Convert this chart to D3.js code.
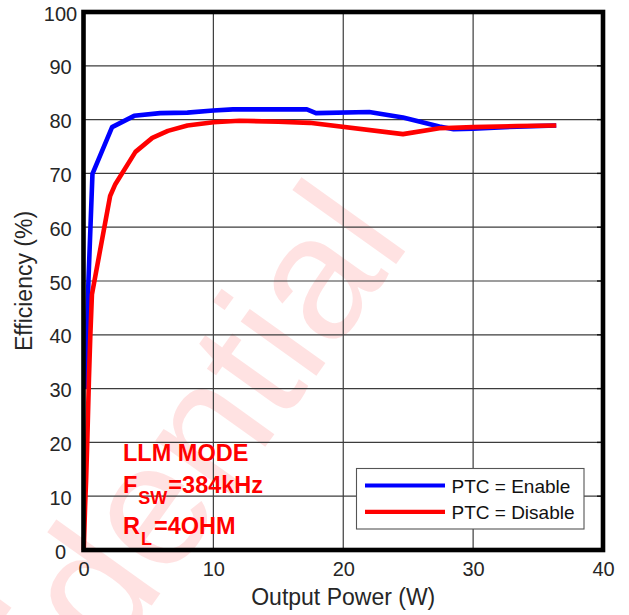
<!DOCTYPE html>
<html>
<head>
<meta charset="utf-8">
<script src="https://cdn.jsdelivr.net/npm/d3@7/dist/d3.min.js"></script>
<style>
  html, body { margin: 0; padding: 0; background: #fff; }
  svg { display: block; }
  text { font-family: "Liberation Sans", Arial, sans-serif; }
</style>
</head>
<body>
<svg id="chart" width="629" height="615"></svg>
<script>
// ---- data ----
const xTicks = [0, 10, 20, 30, 40];
const yTicks = [0, 10, 20, 30, 40, 50, 60, 70, 80, 90, 100];
const seriesNames = ["PTC = Enable", "PTC = Disable"];
const seriesColors = ["#0000ff", "#ff0000"];
const enablePower = [0.1, 0.25, 0.38, 0.69, 2.2, 3.9, 5.9, 8, 10, 11.5, 17.2, 17.9, 22, 24.6, 27.4, 28.5, 30, 33.4, 36.4];
const enableEff   = [30, 39, 50, 69.9, 78.6, 80.7, 81.2, 81.3, 81.7, 81.9, 81.9, 81.2, 81.4, 80.4, 78.7, 78.2, 78.3, 78.7, 78.9];
const disablePower = [0.02, 0.12, 0.2, 0.3, 0.42, 0.52, 0.65, 2.05, 2.45, 4.0, 5.3, 6.5, 8, 10, 12, 15, 17.4, 24.6, 27.4, 30, 33.4, 36.4];
const disableEff   = [0, 8, 13, 21, 32, 39.5, 47.5, 65.8, 68, 74.0, 76.6, 77.9, 78.9, 79.5, 79.8, 79.6, 79.4, 77.3, 78.4, 78.6, 78.8, 78.9];
const annotation = ["LLM MODE", "F", "SW", "=384kHz", "R", "L", "=4OHM"];
const watermark = "Confidential";

// ---- layout ----
const svg = d3.select("#chart");
const x = d3.scaleLinear().domain([0, 40]).range([83.5, 603]);
const y = d3.scaleLinear().domain([0, 100]).range([550, 12]);
const textColor = "#262626";

// watermark (behind everything)
svg.append("text")
  .attr("transform", "translate(412,242) rotate(-54.4)")
  .attr("text-anchor", "end")
  .attr("font-size", 176)
  .attr("fill", "#ffe2e2")
  .text(watermark);

// grid
const grid = svg.append("g").attr("stroke", "#3c3c3c").attr("stroke-width", 1.2);
grid.selectAll(".gx").data(xTicks.slice(1, -1)).join("line")
  .attr("x1", d => x(d)).attr("x2", d => x(d))
  .attr("y1", y(0)).attr("y2", y(100));
grid.selectAll(".gy").data(yTicks.slice(1, -1)).join("line")
  .attr("x1", x(0)).attr("x2", x(40))
  .attr("y1", d => y(d)).attr("y2", d => y(d));

// inner ticks on right side
svg.append("g").attr("stroke", "#111").attr("stroke-width", 1.4)
  .selectAll("line").data(yTicks.slice(1, -1)).join("line")
  .attr("x1", x(40) - 6).attr("x2", x(40))
  .attr("y1", d => y(d)).attr("y2", d => y(d));

// axes via d3
const xAxis = svg.append("g").attr("transform", `translate(0,${y(0)})`)
  .call(d3.axisBottom(x).tickValues(xTicks).tickSize(0).tickPadding(12));
xAxis.select(".domain").remove();
xAxis.selectAll("text").attr("font-size", 20).attr("fill", textColor)
  .attr("font-family", "Liberation Sans, Arial, sans-serif");

const yAxis = svg.append("g").attr("transform", `translate(${x(0)},0)`)
  .call(d3.axisLeft(y).tickValues(yTicks).tickSize(0).tickPadding(0));
yAxis.select(".domain").remove();
yAxis.selectAll("text").attr("font-size", 20).attr("fill", textColor)
  .attr("text-anchor", "middle").attr("x", 60.5 - x(0)).attr("dy", "0.4em")
  .attr("font-family", "Liberation Sans, Arial, sans-serif");

// axis titles
svg.append("text").attr("x", (x(0) + x(40)) / 2).attr("y", 605)
  .attr("text-anchor", "middle").attr("font-size", 23).attr("fill", textColor)
  .text("Output Power (W)");
svg.append("text").attr("transform", `translate(32,${(y(0) + y(100)) / 2}) rotate(-90)`)
  .attr("text-anchor", "middle").attr("font-size", 23).attr("fill", textColor)
  .text("Efficiency (%)");

// lines
const line = d3.line().x(d => x(d[0])).y(d => y(d[1]));
const series = [
  enablePower.map((p, i) => [p, enableEff[i]]),
  disablePower.map((p, i) => [p, disableEff[i]])
];
series.forEach((s, i) => {
  svg.append("path").datum(s)
    .attr("fill", "none").attr("stroke", seriesColors[i])
    .attr("stroke-width", 4.6).attr("stroke-linejoin", "round")
    .attr("d", line);
});

// frame
svg.append("rect")
  .attr("x", x(0)).attr("y", y(100))
  .attr("width", x(40) - x(0)).attr("height", y(0) - y(100))
  .attr("fill", "none").attr("stroke", "#000").attr("stroke-width", 4.6);

// annotation
const ann = svg.append("g").attr("fill", "#ff0000").attr("font-weight", "bold").attr("font-size", 23.5);
ann.append("text").attr("x", 123).attr("y", 461).text(annotation[0]);
const t2 = ann.append("text").attr("x", 123).attr("y", 493);
t2.append("tspan").text(annotation[1]);
t2.append("tspan").attr("font-size", 18).attr("dy", 11).attr("dx", 1).text(annotation[2]);
t2.append("tspan").attr("dy", -11).attr("dx", 1).text(annotation[3]);
const t3 = ann.append("text").attr("x", 123).attr("y", 534);
t3.append("tspan").text(annotation[4]);
t3.append("tspan").attr("font-size", 18).attr("dy", 11).attr("dx", 1).text(annotation[5]);
t3.append("tspan").attr("dy", -11).attr("dx", 2).text(annotation[6]);

// legend
const lg = svg.append("g");
lg.append("rect").attr("x", 356.5).attr("y", 468.5).attr("width", 227.5).attr("height", 60.5)
  .attr("fill", "#fff").attr("stroke", "#555").attr("stroke-width", 1.1);
seriesNames.forEach((name, i) => {
  const yy = 485.5 + i * 26.3;
  lg.append("line").attr("x1", 365).attr("x2", 445).attr("y1", yy).attr("y2", yy)
    .attr("stroke", seriesColors[i]).attr("stroke-width", 4.2);
  lg.append("text").attr("x", 451.5).attr("y", yy + 7).attr("font-size", 19)
    .attr("fill", "#111").text(name);
});
</script>
</body>
</html>
